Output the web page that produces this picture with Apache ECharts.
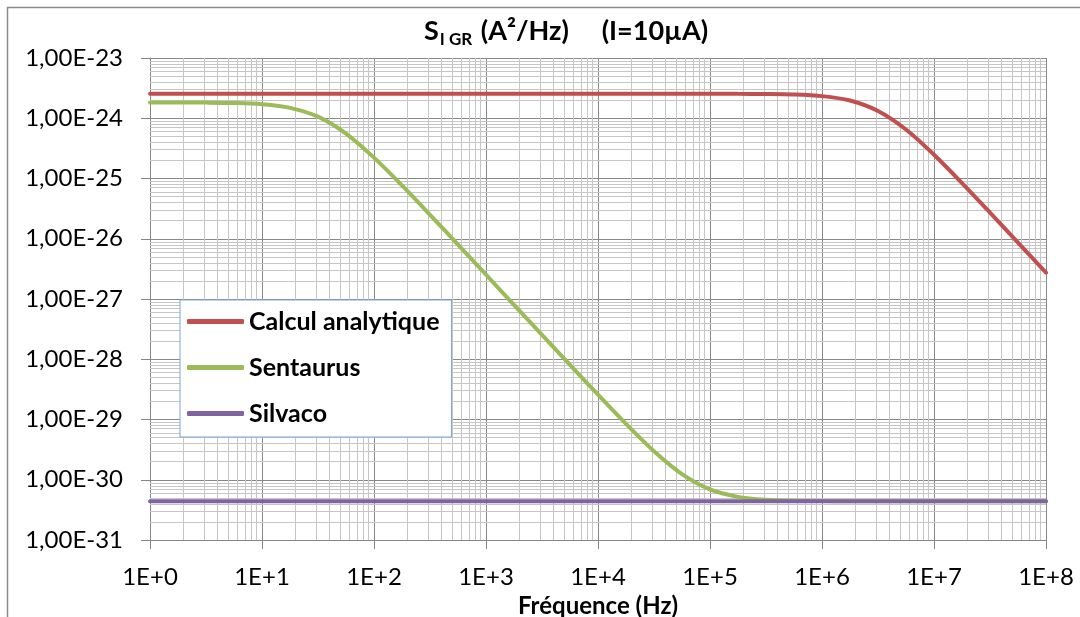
<!DOCTYPE html>
<html><head><meta charset="utf-8">
<script src="https://cdn.jsdelivr.net/npm/echarts@6/dist/echarts.min.js"></script>
<style>html,body{margin:0;padding:0;background:#fff}#c{width:1080px;height:617px}</style>
</head><body><div id="c"></div>
<script>
// Frequencies (Hz), quarter-decade sampling
const freq = [1, 1.778, 3.162, 5.623, 10, 17.78, 31.62, 56.23, 100, 177.8, 316.2, 562.3,
  1e3, 1778, 3162, 5623, 1e4, 17783, 31623, 56234, 1e5, 177828, 316228, 562341,
  1e6, 1.778e6, 3.162e6, 5.623e6, 1e7, 1.778e7, 3.162e7, 5.623e7, 1e8];
const calculAnalytique = [2.55e-24, 2.55e-24, 2.55e-24, 2.55e-24, 2.55e-24, 2.55e-24, 2.55e-24, 2.55e-24,
  2.55e-24, 2.55e-24, 2.55e-24, 2.55e-24, 2.55e-24, 2.55e-24, 2.55e-24, 2.55e-24,
  2.55e-24, 2.55e-24, 2.55e-24, 2.55e-24, 2.55e-24, 2.54e-24, 2.53e-24, 2.48e-24,
  2.33e-24, 1.97e-24, 1.32e-24, 6.5e-25, 2.48e-25, 8.4e-26, 2.72e-26, 8.65e-27, 2.74e-27];
const sentaurus = [1.83e-24, 1.826e-24, 1.817e-24, 1.789e-24, 1.707e-24, 1.489e-24, 1.062e-24, 5.57e-25,
  2.22e-25, 7.67e-26, 2.50e-26, 7.97e-27, 2.53e-27, 8.0e-28, 2.53e-28, 8.05e-29,
  2.58e-29, 8.45e-30, 2.97e-30, 1.24e-30, 6.9e-31, 5.2e-31, 4.65e-31, 4.48e-31,
  4.43e-31, 4.41e-31, 4.4e-31, 4.4e-31, 4.4e-31, 4.4e-31, 4.4e-31, 4.4e-31, 4.4e-31];
const silvacoFreq = [1, 10, 100, 1e3, 1e4, 1e5, 1e6, 1e7, 1e8];
const silvaco = [4.4e-31, 4.4e-31, 4.4e-31, 4.4e-31, 4.4e-31, 4.4e-31, 4.4e-31, 4.4e-31, 4.4e-31];
const seriesNames = ['Calcul analytique', 'Sentaurus', 'Silvaco'];
const xTickLabels = ['1E+0', '1E+1', '1E+2', '1E+3', '1E+4', '1E+5', '1E+6', '1E+7', '1E+8'];
const yTickLabels = ['1,00E-31', '1,00E-30', '1,00E-29', '1,00E-28', '1,00E-27', '1,00E-26', '1,00E-25', '1,00E-24', '1,00E-23'];
const xDecades = [0, 1, 2, 3, 4, 5, 6, 7];
const yDecades = [-31, -30, -29, -28, -27, -26, -25, -24];
const minorMultipliers = [2, 3, 4, 5, 6, 7, 8, 9];

// Axes are linear in log10 space (decades); values are converted with log10.
const L = Math.log10;
const pairs = (xs, ys) => xs.map((x, i) => [L(x), L(ys[i])]);
const minorLines = [];
xDecades.forEach(k => minorMultipliers.forEach(m => minorLines.push({ xAxis: k + L(m) })));
yDecades.forEach(k => minorMultipliers.forEach(m => minorLines.push({ yAxis: k + L(m) })));

const FONT = 'Lato';
const chart = echarts.init(document.getElementById('c'), null, { renderer: 'canvas' });
chart.setOption({
  animation: false,
  backgroundColor: '#fff',
  graphic: [
    { type: 'rect', shape: { x: 7.5, y: 7.5, width: 1200, height: 800 }, style: { fill: 'none', stroke: '#8a8a8a', lineWidth: 1.5 }, silent: true, z: 0 },
    { type: 'text', x: 566, y: 33, z: 10,
      style: {
        text: '{s|S}{sub|I GR}{s| (A²/Hz)     (I=10µA)}',
        align: 'center', verticalAlign: 'middle',
        rich: {
          s: { fontFamily: FONT, fontWeight: 'bold', fontSize: 27, fill: '#000', verticalAlign: 'bottom', padding: [0, 0, 3, 0] },
          sub: { fontFamily: FONT, fontWeight: 'bold', fontSize: 17, fill: '#000', verticalAlign: 'bottom', padding: [0, 2, 0, 1] }
        }
      }
    }
  ],
  grid: { left: 150, right: 34, top: 58, bottom: 77, containLabel: false, outerBoundsMode: 'none' },
  legend: {
    data: seriesNames, orient: 'vertical', left: 180, top: 300, z: 6,
    itemWidth: 57, itemHeight: 5, icon: 'roundRect', itemGap: 21,
    padding: [9, 12, 11, 7], backgroundColor: '#fff', borderColor: '#7EA6D8', borderWidth: 1,
    textStyle: { fontFamily: FONT, fontWeight: 'bold', fontSize: 25, color: '#000', lineHeight: 24 },
    selectedMode: false
  },
  xAxis: {
    type: 'value', min: 0, max: 8, interval: 1,
    name: 'Fréquence (Hz)', nameLocation: 'middle', nameGap: 48,
    nameTextStyle: { fontFamily: FONT, fontWeight: 'bold', fontSize: 24, color: '#000' },
    axisLine: { show: true, lineStyle: { color: '#868686', width: 1 } },
    axisTick: { show: true, length: 9, lineStyle: { color: '#868686' } },
    axisLabel: { fontFamily: FONT, fontSize: 24, color: '#000', margin: 25,
      formatter: v => xTickLabels[Math.round(v)] },
    splitLine: { show: true, lineStyle: { color: '#888888', width: 1 } }
  },
  yAxis: {
    type: 'value', min: -31, max: -23, interval: 1,
    axisLine: { show: true, lineStyle: { color: '#868686', width: 1 } },
    axisTick: { show: true, length: 9, lineStyle: { color: '#868686' } },
    axisLabel: { fontFamily: FONT, fontSize: 24, color: '#000', margin: 27,
      formatter: v => yTickLabels[Math.round(v) + 31] },
    splitLine: { show: true, lineStyle: { color: '#888888', width: 1 } }
  },
  series: [
    { name: 'minor', type: 'line', data: pairs(silvacoFreq, silvaco), z: 1, silent: true,
      showSymbol: false, symbol: 'none', lineStyle: { opacity: 0, width: 0 },
      markLine: { silent: true, z: 1, symbol: ['none', 'none'], animation: false, label: { show: false },
        lineStyle: { type: 'solid', color: '#c6c6c6', width: 1 }, emphasis: { disabled: true },
        data: minorLines } },
    { name: seriesNames[0], type: 'line', data: pairs(freq, calculAnalytique), color: '#C0504D',
      showSymbol: false, symbol: 'none', smooth: 0.3, z: 3,
      lineStyle: { width: 4, color: '#C0504D', cap: 'round' } },
    { name: seriesNames[1], type: 'line', data: pairs(freq, sentaurus), color: '#9BBB59',
      showSymbol: false, symbol: 'none', smooth: 0.3, z: 3,
      lineStyle: { width: 4, color: '#9BBB59', cap: 'round' } },
    { name: seriesNames[2], type: 'line', data: pairs(silvacoFreq, silvaco), color: '#8064A2',
      showSymbol: false, symbol: 'none', z: 3,
      lineStyle: { width: 4, color: '#8064A2', cap: 'round' } }
  ]
});
</script></body></html>
